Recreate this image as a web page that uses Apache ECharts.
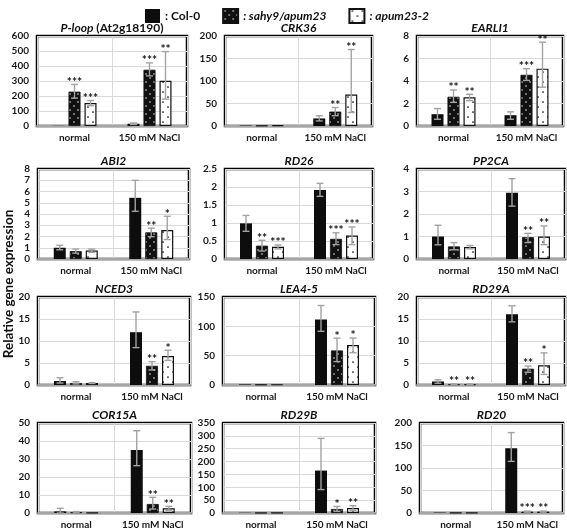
<!DOCTYPE html>
<html><head><meta charset="utf-8">
<script src="https://cdn.jsdelivr.net/npm/echarts@6/dist/echarts.min.js"></script>
<style>html,body{margin:0;padding:0;background:#fff}#c{width:567px;height:531px}</style>
</head><body><div id="c"></div>
<script>
// ---------------- DATA ----------------
const categories = ['normal', '150 mM NaCl'];
const seriesNames = ['Col-0', 'sahy9/apum23', 'apum23-2'];
const genes = ['P-loop', 'CRK36', 'EARLI1', 'ABI2', 'RD26', 'PP2CA', 'NCED3', 'LEA4-5', 'RD29A', 'COR15A', 'RD29B', 'RD20'];
const yMax  = [600, 200, 8, 8, 2.5, 4, 20, 150, 20, 50, 350, 200];
const yStep = [100, 50, 2, 1, 0.5, 1, 5, 50, 5, 10, 50, 50];

// [normal, 150 mM NaCl] per gene
const col0Mean    = [[1,15],[1,16.8],[1.05,0.96],[1.0,5.44],[0.99,1.92],[1.0,2.95],[0.9,12.0],[1,111.5],[0.8,16.1],[0.9,35],[1,165],[1,143.7]];
const col0ErrUp   = [[0,5],[0.5,6],[0.5,0.3],[0.22,1.55],[0.22,0.18],[0.5,0.62],[0.75,4.6],[0.5,24],[0.4,1.9],[1.7,10.7],[0.5,125],[0.5,35]];
const col0ErrDown = [[0,5],[0.5,5.5],[0.45,0.36],[0.18,1.2],[0.22,0.18],[0.37,0.6],[0.45,3.5],[0.5,20],[0.4,1.75],[0.9,8.7],[0.5,74],[0.5,29]];
const sahyMean    = [[229,375],[1,32],[2.6,4.55],[0.7,2.37],[0.37,0.56],[0.56,0.97],[0.45,4.36],[0.8,58.9],[0.15,3.7],[0.4,5],[0.5,15.6],[0.5,3]];
const sahyErrUp   = [[48,46],[0.3,9],[0.6,0.55],[0.18,0.37],[0.15,0.17],[0.17,0.17],[0.3,0.95],[0.3,21],[0.1,0.6],[0.4,3.7],[0.3,10],[0.3,1.2]];
const sahyErrDown = [[43,41],[0.3,9],[0.5,0.5],[0.18,0.39],[0.15,0.16],[0.15,0.24],[0.2,0.95],[0.3,19],[0.1,0.8],[0.3,2.8],[0.3,9],[0.3,1.2]];
const apumMean    = [[153,301],[2,70],[2.55,5.1],[0.76,2.58],[0.34,0.65],[0.53,1.0],[0.45,6.6],[0.8,68],[0.15,4.5],[0.1,2.6],[0.5,19.5],[0.5,3]];
const apumErrUp   = [[17,195],[0.5,100],[0.27,2.35],[0.12,1.22],[0.05,0.24],[0.07,0.47],[0.1,1.3],[0.3,12],[0.1,2.8],[0.1,1.1],[0.3,9],[0.3,1.2]];
const apumErrDown = [[18,122],[0.5,40],[0.3,1.65],[0.16,0.85],[0.06,0.25],[0.08,0.36],[0.1,1.0],[0.3,13],[0.1,2.1],[0.1,1.3],[0.3,9],[0.3,1.2]];
const sahyStars = [['***','***'],['','**'],['**','***'],['','**'],['**','***'],['','**'],['','**'],['','*'],['**','**'],['','**'],['','*'],['','***']];
const apumStars = [['***','**'],['','**'],['**','**'],['','*'],['***','***'],['','**'],['','*'],['','*'],['**','*'],['','**'],['','**'],['','**']];

// ---------------- LAYOUT ----------------
const layout = [
  [37,36,150,90],[225,36,147,90],[417,36,146,90],
  [38,169,151,90],[225,169,148,90],[417,169,148,90],
  [38,297,152,88],[223,297,152,88],[417,297,148,88],
  [38,423,153,90],[223,423,152,90],[420,423,143,90]
];
const FONT = 'Lato, "Open Sans", sans-serif';

function makePattern(bg, fg, size, dots, r) {
  const c = document.createElement('canvas');
  c.width = size; c.height = size;
  const g = c.getContext('2d');
  g.fillStyle = bg; g.fillRect(0, 0, size, size);
  g.fillStyle = fg;
  dots.forEach(d => { g.beginPath(); g.arc(d[0], d[1], r, 0, Math.PI * 2); g.fill(); });
  return { image: c, repeat: 'repeat' };
}
const sahyFill = makePattern('#111', '#fff', 8, [[2,2],[6,6]], 0.75);
const apumFill = makePattern('#fff', '#000', 10, [[3,2],[8,7]], 0.85);

const BAR_W = 12, STEP = 16;
function errRender(stars) {
  return function (params, api) {
    const cat = api.value(0), s = api.value(1), m = api.value(2), up = api.value(3), dn = api.value(4);
    const x = api.coord([cat, m])[0] + (s - 1) * STEP;
    const yT = api.coord([cat, m + up])[1];
    const yB = api.coord([cat, Math.max(0, m - dn)])[1];
    const st = { stroke: '#a3a3a3', lineWidth: 1.4 };
    const ch = [];
    if (yB - yT > 0.8) {
      ch.push({ type: 'line', shape: { x1: x, y1: yT, x2: x, y2: yB }, style: st });
      ch.push({ type: 'line', shape: { x1: x - 3.5, y1: yT, x2: x + 3.5, y2: yT }, style: st });
      ch.push({ type: 'line', shape: { x1: x - 3.5, y1: yB, x2: x + 3.5, y2: yB }, style: st });
    }
    const lab = stars[params.dataIndex];
    if (lab) ch.push({ type: 'text', style: { text: lab, x: x, y: yT - 2.5, align: 'center', verticalAlign: 'middle', font: 'bold 12px ' + FONT, fill: '#111' } });
    return { type: 'group', children: ch };
  };
}

const grids = [], xAxes = [], yAxes = [], series = [], graphics = [];
genes.forEach((g, i) => {
  const [l, t, w, h] = layout[i];
  grids.push({ left: l, top: t, width: w, height: h, show: true, borderColor: '#000', borderWidth: 2.5, backgroundColor: '#fff', containLabel: false });
  xAxes.push({ type: 'category', gridIndex: i, data: categories,
    axisTick: { show: false },
    axisLine: { lineStyle: { color: '#a6a6a6', width: 2 } },
    axisLabel: { interval: 0, fontFamily: FONT, fontWeight: 'bold', fontSize: 10, color: '#1a1a1a', margin: 7 },
    splitLine: { show: true, interval: 0, lineStyle: { color: '#d9d9d9', width: 1 } } });
  yAxes.push({ type: 'value', gridIndex: i, min: 0, max: yMax[i], interval: yStep[i],
    axisLine: { show: false }, axisTick: { show: false },
    axisLabel: { fontFamily: FONT, fontWeight: 'bold', fontSize: 10, color: '#1a1a1a', margin: 8 },
    splitLine: { lineStyle: { color: '#d9d9d9', width: 1 } } });
  const means = [col0Mean[i], sahyMean[i], apumMean[i]];
  const ups = [col0ErrUp[i], sahyErrUp[i], apumErrUp[i]];
  const dns = [col0ErrDown[i], sahyErrDown[i], apumErrDown[i]];
  const fills = [
    { color: '#0d0d0d' },
    { color: sahyFill, borderColor: '#111', borderWidth: 0.8 },
    { color: apumFill, borderColor: '#111', borderWidth: 1.2 }
  ];
  means.forEach((m, s) => {
    series.push({ type: 'bar', name: seriesNames[s], xAxisIndex: i, yAxisIndex: i, data: m,
      barWidth: BAR_W, barGap: '33.34%', itemStyle: fills[s], silent: true, animation: false });
  });
  const errData = [], starList = [];
  const starsBy = [['', ''], sahyStars[i], apumStars[i]];
  for (let s = 0; s < 3; s++) for (let c = 0; c < 2; c++) {
    errData.push([c, s, means[s][c], ups[s][c], dns[s][c]]);
    starList.push(starsBy[s][c]);
  }
  series.push({ type: 'custom', xAxisIndex: i, yAxisIndex: i, data: errData, encode: { x: 0, y: 2 },
    renderItem: errRender(starList), z: 5, silent: true, animation: false, clip: false });
  const txt = i === 0 ? '{i|P-loop}{n| (At2g18190)}' : '{i|' + g + '}';
  graphics.push({ type: 'text', x: l + w / 2, y: t - 8, silent: true,
    style: { text: txt, align: 'center', verticalAlign: 'middle',
      rich: { i: { font: 'italic bold 12px ' + FONT, fill: '#111' }, n: { font: 'bold 12px ' + FONT, fill: '#111' } } } });
});
graphics.push({ type: 'text', x: 9, y: 284, rotation: Math.PI / 2, silent: true,
  style: { text: 'Relative gene expression', align: 'center', verticalAlign: 'middle', font: 'bold 13.5px ' + FONT, fill: '#111' } });

const chart = echarts.init(document.getElementById('c'), null, { renderer: 'canvas' });
chart.setOption({
  animation: false,
  backgroundColor: '#fff',
  legend: { data: seriesNames, left: 140, top: 3, itemWidth: 15, itemHeight: 14, itemGap: 22, icon: 'rect',
    selectedMode: false,
    formatter: n => n === 'Col-0' ? '{n|: Col-0}' : '{i|: ' + n + '}',
    textStyle: { rich: { n: { fontFamily: FONT, fontWeight: 'bold', fontSize: 12, color: '#111' },
                         i: { fontFamily: FONT, fontWeight: 'bold', fontStyle: 'italic', fontSize: 12, color: '#111' } } } },
  grid: grids, xAxis: xAxes, yAxis: yAxes, series: series, graphic: graphics
});
</script></body></html>
